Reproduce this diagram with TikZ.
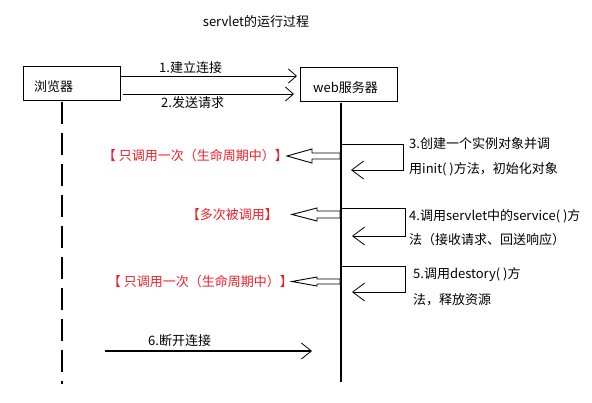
\documentclass[tikz,border=0pt]{standalone}
\usepackage{fontspec}
\setmainfont{Noto Sans CJK SC}
\usetikzlibrary{arrows.meta}
\definecolor{notered}{RGB}{240,30,40}
\tikzset{
  txt/.style={inner sep=0pt, font=\fontsize{13}{15}\selectfont},
  redtxt/.style={txt, text=notered},
  actor/.style={draw, line width=0.9pt, minimum width=97pt, minimum height=34pt, inner sep=0pt},
  lifeline/.style={line width=2pt},
  msg/.style={line width=0.9pt, -{Straight Barb[length=8pt,width=14pt,line width=0.8pt]}},
  selfcall/.style={line width=0.9pt, -{Straight Barb[length=12pt,width=18pt,line width=0.8pt]}},
  closemsg/.style={line width=2pt, -{Straight Barb[length=10pt,width=16pt,line width=0.8pt]}},
  blockarrow/.style={draw, line width=0.9pt, fill=white, line join=miter}
}
\begin{document}
\begin{tikzpicture}[x=1pt,y=-1pt]
\useasboundingbox (0,0) rectangle (592,402);

% title
\node[txt] (title) at (256,22) {servlet的运行过程};

% the two participants
\node[actor] (browser) at (71.5,83) {};
\node[txt, anchor=west] (browserlbl) at (34,87) {浏览器};
\node[actor] (server) at (349,84.5) {};
\node[txt, anchor=west] (serverlbl) at (313,88) {web服务器};

% lifelines
\coordinate (bl-top) at (62,102);
\coordinate (bl-bot) at (62,384);
\coordinate (sl-top) at (341,103);
\coordinate (sl-bot) at (341,382);
\draw[lifeline, dash pattern=on 22pt off 9pt] (bl-top) -- (bl-bot);
\draw[lifeline] (sl-top) -- (sl-bot);

% 1. connect, 2. request
\coordinate (m1s) at (120,76);
\coordinate (m1e) at (297,76);
\coordinate (m2s) at (123,94);
\coordinate (m2e) at (294,94);
\draw[msg] (m1s) -- (m1e);
\draw[msg] (m2s) -- (m2e);
\node[txt, anchor=west] (m1lbl) at (159,68) {1.建立连接};
\node[txt, anchor=west] (m2lbl) at (161,103) {2.发送请求};

% 3. create instance, init()
\coordinate (s3a) at (341,144);
\coordinate (s3b) at (403,144);
\coordinate (s3c) at (403,170);
\coordinate (s3d) at (351,170);
\draw[selfcall] (s3a) -- (s3b) -- (s3c) -- (s3d);
\node[txt, anchor=west] (s3l1) at (409,144) {3.创建一个实例对象并调};
\node[txt, anchor=west] (s3l2) at (409,169) {用init(~)方法，初始化对象};
\coordinate (b3) at (340,156);
\draw[blockarrow] (b3) ++(0,-3) -- ++(-28,0) -- ++(0,-4) -- ++(-25,7)
  coordinate (b3tip) -- ++(25,7) -- ++(0,-4) -- ++(28,0) -- cycle;
\node[redtxt, anchor=east] (r3) at ([xshift=1pt]b3tip) {【 只调用一次（生命周期中）】};

% 4. service()
\coordinate (s4a) at (341,208);
\coordinate (s4b) at (405,208);
\coordinate (s4c) at (405,236);
\coordinate (s4d) at (352,236);
\draw[selfcall] (s4a) -- (s4b) -- (s4c) -- (s4d);
\node[txt, anchor=west] (s4l1) at (409,216) {4.调用servlet中的service(~)方};
\node[txt, anchor=west] (s4l2) at (409,240) {法（接收请求、回送响应）};
\coordinate (b4) at (340,214.5);
\draw[blockarrow] (b4) ++(0,-3.5) -- ++(-23,0) -- ++(0,-3) -- ++(-25,6.5)
  coordinate (b4tip) -- ++(25,6.5) -- ++(0,-3) -- ++(23,0) -- cycle;
\node[redtxt, anchor=east] (r4) at ([xshift=-14pt]b4tip) {【多次被调用】};

% 5. destroy()
\coordinate (s5a) at (341,266);
\coordinate (s5b) at (405,266);
\coordinate (s5c) at (405,292);
\coordinate (s5d) at (352,292);
\draw[selfcall] (s5a) -- (s5b) -- (s5c) -- (s5d);
\node[txt, anchor=west] (s5l1) at (413,275) {5.调用destory(~)方};
\node[txt, anchor=west] (s5l2) at (413,300) {法，释放资源};
\coordinate (b5) at (340,281.5);
\draw[blockarrow] (b5) ++(0,-2.5) -- ++(-23,0) -- ++(0,-2) -- ++(-25,4.5)
  coordinate (b5tip) -- ++(25,4.5) -- ++(0,-2) -- ++(23,0) -- cycle;
\node[redtxt, anchor=east] (r5) at ([xshift=1pt]b5tip) {【 只调用一次（生命周期中）】};

% 6. disconnect
\coordinate (m6s) at (105,351);
\coordinate (m6e) at (312,351);
\draw[closemsg] (m6s) -- (m6e);
\node[txt, anchor=west] (m6lbl) at (148,341) {6.断开连接};
\end{tikzpicture}
\end{document}
